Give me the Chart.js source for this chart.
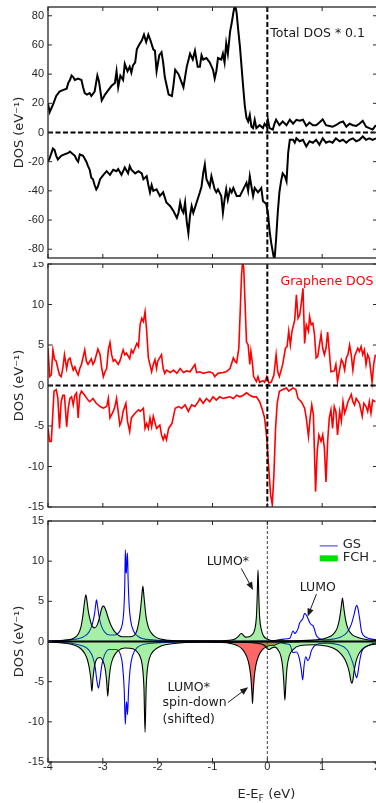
<!DOCTYPE html>
<html>
<head>
<meta charset="utf-8">
<title>DOS</title>
<script src="https://cdn.jsdelivr.net/npm/chart.js@4.4.1/dist/chart.umd.min.js"></script>
<style>
  html, body { margin: 0; padding: 0; background: #fff; }
  body { width: 376px; height: 803px; overflow: hidden; position: relative; }
  canvas { position: absolute; left: 0; }
</style>
</head>
<body>
<canvas id="totalChart" width="400" height="262" style="top:0px"></canvas>
<canvas id="grapheneChart" width="400" height="248" style="top:262px"></canvas>
<canvas id="moleculeChart" width="400" height="293" style="top:510px"></canvas>
<script>
// tick labels
var xTicks = [-4, -3, -2, -1, 0, 1, 2];
var yTicksTotal = [-80, -60, -40, -20, 0, 20, 40, 60, 80];
var yTicksDos = [-15, -10, -5, 0, 5, 10, 15];

// total DOS * 0.1, spin up
var totE_up = [-4.00,-3.97,-3.91,-3.85,-3.79,-3.73,-3.66,-3.63,-3.60,-3.57,-3.54,-3.51,-3.45,-3.39,-3.36,-3.33,-3.29,-3.24,-3.21,-3.15,-3.10,-3.07,-3.02,-2.96,-2.90,-2.84,-2.78,-2.75,-2.72,-2.68,-2.63,-2.60,-2.55,-2.51,-2.48,-2.45,-2.41,-2.38,-2.34,-2.29,-2.25,-2.21,-2.17,-2.13,-2.08,-2.05,-2.02,-1.97,-1.93,-1.90,-1.87,-1.80,-1.74,-1.71,-1.68,-1.62,-1.56,-1.53,-1.47,-1.41,-1.36,-1.32,-1.27,
  -1.23,-1.20,-1.17,-1.11,-1.05,-0.99,-0.96,-0.93,-0.90,-0.84,-0.81,-0.78,-0.75,-0.72,-0.68,-0.65,-0.62,-0.59,-0.56,-0.53,-0.50,-0.47,-0.44,-0.41,-0.38,-0.35,-0.32,-0.29,-0.26,-0.23,-0.20,-0.14,-0.08,-0.05,-0.01,0.01,0.04,0.10,0.13,0.16,0.22,0.28,0.35,0.41,0.47,0.53,0.59,0.65,0.71,0.77,0.83,0.89,0.95,1.01,1.07,1.13,1.19,1.25,1.32,1.38,1.44,1.50,1.56,1.62,1.68,1.74,1.80,1.86,1.92,1.98];
var totUp = [20,14,19,25,28,29,30,34,36,39,38,36,37,36,31,27,26,27,25,28,39,35,22,26,29,32,34,42,31,39,36,47,42,45,41,46,48,57,60,63,67,62,67,63,57,56,42,53,55,48,38,26,25,33,43,40,34,31,45,54,50,56,45,
  45,53,50,51,48,43,37,42,51,50,54,48,61,54,69,75,82,88,82,70,59,45,31,18,10,7.5,12,4,3,8.7,3,5,3,6,4,8.7,3,2,6,8.7,5,7.5,5,8.7,6,8.7,8,8.7,4.5,6.8,5,5,6.8,9,5,4.5,4,5,6.8,7.5,4,6,5,4.5,6,8,4,3,2,5];

// total DOS * 0.1, spin down
var totE_dn = [-4.00,-3.97,-3.91,-3.88,-3.85,-3.82,-3.76,-3.70,-3.63,-3.60,-3.57,-3.51,-3.48,-3.45,-3.42,-3.36,-3.30,-3.27,-3.24,-3.21,-3.18,-3.15,-3.12,-3.09,-3.05,-2.99,-2.93,-2.87,-2.81,-2.75,-2.72,-2.66,-2.60,-2.54,-2.51,-2.48,-2.41,-2.35,-2.29,-2.26,-2.20,-2.17,-2.14,-2.11,-2.08,-2.02,-1.96,-1.90,-1.84,-1.77,-1.71,-1.65,-1.62,-1.59,-1.56,-1.53,-1.50,-1.47,-1.44,-1.41,-1.38,-1.35,-1.29,
  -1.23,-1.20,-1.17,-1.14,-1.11,-1.05,-1.02,-0.99,-0.96,-0.93,-0.90,-0.84,-0.81,-0.78,-0.75,-0.72,-0.68,-0.65,-0.62,-0.56,-0.50,-0.44,-0.38,-0.35,-0.32,-0.29,-0.26,-0.23,-0.17,-0.11,-0.08,-0.05,-0.02,0.01,0.04,0.07,0.10,0.13,0.16,0.19,0.22,0.25,0.28,0.32,0.35,0.38,0.41,0.47,0.50,0.53,0.59,0.65,0.71,0.77,0.83,0.89,0.95,1.01,1.07,1.13,1.19,1.25,1.32,1.38,1.44,1.50,1.56,1.62,1.68,1.74,1.80,1.86,1.92,1.98];
var totDn = [-20,-17.5,-11,-12,-16,-18.5,-16,-15,-14,-13,-14,-16,-18.5,-20,-15,-16,-20,-23,-25.5,-31,-32,-36,-39,-37,-32,-29,-26.5,-29,-25.5,-26.5,-25,-29,-24,-28,-23,-25.5,-28,-26.5,-28,-32,-30,-36,-41,-36,-40,-39,-43.5,-41,-48,-50.5,-54,-58.5,-55,-48,-53,-55,-48,-61,-69,-57,-50.5,-55,-48,
  -41,-37,-28,-22,-32,-37,-30,-34.5,-39,-41,-39,-43.5,-55,-46,-39,-46,-39,-41,-38,-43.5,-43.5,-39,-34.5,-40,-30,-37,-43.5,-38,-41,-38,-47,-48,-49,-55,-67,-75.5,-82,-88,-73,-55,-41,-33.5,-28,-30,-33.5,-14,-5,-5,-7,-4,-6,-5,-9.5,-6,-7,-5,-8.4,-4,-7,-6,-7,-4,-6,-5,-7,-5,-4,-6,-5,-2.7,-5,-4,-5,-4];

// graphene DOS, spin up
var grE_up = [-4.00,-3.97,-3.94,-3.91,-3.88,-3.85,-3.82,-3.79,-3.76,-3.73,-3.70,-3.66,-3.63,-3.60,-3.57,-3.54,-3.51,-3.48,-3.45,-3.42,-3.39,-3.33,-3.30,-3.27,-3.21,-3.18,-3.15,-3.09,-3.05,-3.02,-2.99,-2.96,-2.93,-2.90,-2.87,-2.84,-2.81,-2.78,-2.72,-2.69,-2.63,-2.60,-2.57,-2.51,-2.48,-2.45,-2.38,-2.35,-2.32,-2.29,-2.26,-2.23,-2.20,-2.17,-2.11,-2.08,-2.05,-2.02,-2.00,-1.93,-1.90,-1.87,-1.84,-1.77,-1.71,-1.65,-1.59,-1.53,-1.47,-1.41,-1.32,-1.29,
  -1.23,-1.17,-1.11,-1.05,-0.99,-0.96,-0.90,-0.81,-0.75,-0.68,-0.62,-0.59,-0.56,-0.52,-0.49,-0.47,-0.45,-0.43,-0.41,-0.38,-0.35,-0.32,-0.30,-0.27,-0.25,-0.20,-0.17,-0.14,-0.08,-0.05,-0.01,0.03,0.07,0.12,0.16,0.19,0.22,0.28,0.33,0.36,0.39,0.42,0.45,0.50,0.53,0.56,0.59,0.62,0.65,0.68,0.71,0.75,0.77,0.80,0.83,0.86,0.89,0.92,0.95,0.98,1.01,1.04,1.07,1.10,1.13,1.16,1.22,1.25,1.28,1.35,1.38,1.41,1.44,1.47,1.50,1.53,1.56,1.59,1.65,1.68,1.71,1.74,1.77,1.80,1.83,1.86,1.91,1.94,1.97];
var grUp = [4.6,1.1,1.3,4.4,3.2,3.0,2.1,1.3,1.1,2.1,3.8,2.1,3.2,3.4,2.6,1.9,2.3,1.7,1.3,2.1,2.6,4.4,3.0,2.6,3.3,2.6,3.0,4.5,3.8,2.1,1.1,1.7,2.1,4.4,5.3,3.8,3.0,3.2,2.6,3.0,4.4,3.8,4.0,3.3,4.4,4.0,5.2,4.8,7.5,8.3,7.9,9.1,6.7,3.4,1.7,2.6,3.2,2.1,3.0,3.8,2.1,1.5,1.9,1.6,1.9,1.5,2.1,1.6,1.8,1.7,2.6,1.6,
  1.7,1.5,1.6,1.7,1.5,1.1,1.5,1.6,1.7,2.1,3.4,3.0,2.8,4.6,10,13.7,15.3,14.5,10.8,5.4,5.0,2.6,4.2,2.6,1.1,0.5,1.1,0.4,0.6,0.4,1.1,0.3,0.4,1.3,3.8,1.7,1.1,2.6,4.6,4.8,6.7,5.0,6.7,8.1,11.2,8.3,8.7,10.2,12.0,5.2,7.5,6.7,8.5,7.5,7.7,6.3,3.4,3.6,5.0,6.3,4.6,3.8,4.6,6.6,4.2,1.7,1.8,2.6,0.5,3.2,2.8,1.9,3.4,3.8,5.0,3.8,1.9,3.6,4.6,4.2,4.8,3.8,4.4,2.6,3.8,3.3,0.4,2.6,3.8];

// graphene DOS, spin down
var grE_dn = [-4.00,-3.97,-3.94,-3.91,-3.89,-3.85,-3.82,-3.79,-3.76,-3.73,-3.70,-3.66,-3.63,-3.60,-3.57,-3.54,-3.51,-3.48,-3.45,-3.42,-3.39,-3.33,-3.27,-3.24,-3.18,-3.12,-3.05,-2.99,-2.93,-2.90,-2.87,-2.84,-2.81,-2.78,-2.75,-2.72,-2.69,-2.66,-2.63,-2.58,-2.55,-2.51,-2.48,-2.41,-2.35,-2.32,-2.29,-2.26,-2.23,-2.20,-2.17,-2.14,-2.11,-2.08,-2.02,-1.96,-1.93,-1.90,-1.87,-1.84,-1.80,-1.74,-1.68,-1.62,-1.56,-1.50,-1.44,-1.38,-1.32,-1.26,
  -1.23,-1.17,-1.11,-1.05,-0.99,-0.93,-0.87,-0.81,-0.75,-0.68,-0.62,-0.56,-0.50,-0.44,-0.38,-0.32,-0.26,-0.20,-0.14,-0.09,-0.05,-0.01,0.03,0.06,0.09,0.12,0.15,0.18,0.22,0.28,0.35,0.39,0.47,0.52,0.56,0.62,0.68,0.71,0.75,0.78,0.81,0.84,0.88,0.91,0.94,0.98,1.01,1.04,1.07,1.10,1.13,1.16,1.19,1.22,1.25,1.28,1.32,1.35,1.38,1.41,1.44,1.47,1.50,1.53,1.56,1.59,1.62,1.68,1.73,1.76,1.80,1.83,1.86,1.89,1.92,1.97];
var grDn = [-5.3,-6.9,-6.9,-3.2,-0.7,-0.5,-1.6,-5.3,-2.0,-1.2,-1.2,-5.1,-2.8,-1.6,-1.4,-2.4,-1.2,-0.9,-4.0,-1.2,-0.7,-1.2,-1.8,-2.0,-1.6,-2.2,-2.6,-2.8,-2.6,-1.6,-4.0,-3.6,-3.2,-2.6,-1.6,-3.2,-4.9,-4.4,-3.2,-2.2,-4.4,-5.7,-4.0,-3.4,-3.0,-3.2,-3.0,-2.8,-5.3,-4.7,-5.3,-4.0,-5.1,-3.8,-5.3,-4.9,-6.1,-6.7,-6.1,-6.7,-5.3,-4.7,-2.8,-2.6,-2.8,-2.4,-3.2,-2.4,-2.6,-2.0,
  -1.6,-2.2,-1.6,-2.0,-1.4,-1.8,-1.4,-1.6,-1.5,-1.4,-1.6,-1.2,-1.4,-1.2,-0.9,-1.2,-1.4,-1.4,-2.0,-3.0,-4.0,-6.5,-10.6,-13.5,-14.7,-11.0,-5.3,-2.2,-0.7,-0.5,-0.3,-0.7,-0.3,-0.5,-1.6,-2.0,-2.8,-4.0,-6.3,-4.0,-2.4,-3.6,-13.1,-8.1,-6.1,-6.9,-6.1,-7.7,-11.9,-6.9,-4.0,-3.0,-5.3,-2.6,-3.2,-6.1,-3.2,-4.4,-2.0,-3.4,-2.8,-2.0,-1.6,-1.1,-2.0,-2.4,-1.6,-2.2,-3.8,-2.2,-2.6,-3.2,-2.0,-3.4,-1.8,-2.0];

// molecule: ground state (GS)
var gsE_up = [-4.00,-3.60,-3.35,-3.25,-3.19,-3.15,-3.13,-3.115,-3.10,-3.07,-3.03,-2.97,-2.88,-2.78,-2.70,-2.65,-2.62,-2.60,-2.59,-2.58,-2.57,-2.56,-2.55,-2.54,-2.52,-2.49,-2.44,-2.35,-2.10,-1.50,-0.50,0.00,0.10,0.20,0.30,0.41,0.47,0.50,0.53,0.56,0.59,0.62,0.65,0.68,0.71,0.74,0.77,0.80,0.83,0.86,0.89,0.95,1.05,1.20,1.35,1.45,1.53,1.58,1.61,1.63,1.65,1.68,1.72,1.81,1.90,2.00];
var gsUp = [0.05,0.2,0.6,1.2,2.2,3.5,4.6,5.2,4.6,3.2,2.0,1.2,0.8,0.8,1.2,2.0,3.6,7.0,11.4,9.0,8.5,10.5,11.0,8.0,4.5,2.5,1.3,0.6,0.2,0.05,0.03,0.05,0.1,0.2,0.3,0.4,1.3,1.0,1.2,1.6,2.3,2.6,2.9,3.5,3.3,2.9,2.4,2.1,2.0,1.5,0.8,0.35,0.2,0.3,0.6,1.1,2.1,3.3,4.2,4.5,4.2,3.0,1.2,0.5,0.3,0.2];
var gsE_dn = [-4.00,-3.55,-3.35,-3.25,-3.18,-3.14,-3.11,-3.08,-3.05,-3.02,-2.97,-2.88,-2.76,-2.68,-2.64,-2.61,-2.59,-2.575,-2.565,-2.55,-2.53,-2.50,-2.46,-2.38,-2.15,-1.50,0.00,0.20,0.35,0.41,0.47,0.53,0.58,0.62,0.645,0.67,0.70,0.74,0.77,0.80,0.85,0.95,1.10,1.30,1.45,1.53,1.58,1.61,1.63,1.65,1.68,1.72,1.81,1.90,2.00];
var gsDn = [-0.05,-0.25,-0.6,-1.1,-2.0,-3.2,-4.8,-5.8,-4.6,-3.0,-1.7,-1.0,-1.0,-1.6,-3.0,-6.0,-10.3,-8.0,-7.5,-9.1,-6.0,-3.3,-1.8,-0.8,-0.25,-0.05,-0.05,-0.1,-0.3,-0.4,-1.4,-1.3,-2.0,-3.5,-4.8,-3.0,-1.9,-2.4,-2.0,-1.2,-0.6,-0.25,-0.2,-0.4,-1.0,-2.1,-3.2,-4.2,-4.5,-4.0,-2.6,-1.3,-0.6,-0.3,-0.2];

// molecule: full core hole (FCH)
var fchE_up = [-4.00,-3.70,-3.55,-3.45,-3.40,-3.37,-3.35,-3.33,-3.31,-3.29,-3.27,-3.24,-3.20,-3.15,-3.10,-3.06,-3.03,-3.01,-2.99,-2.97,-2.94,-2.90,-2.85,-2.78,-2.65,-2.50,-2.40,-2.33,-2.31,-2.29,-2.27,-2.25,-2.23,-2.21,-2.17,-2.12,-2.05,-1.95,-1.80,-1.50,-1.00,-0.70,-0.58,-0.52,-0.49,-0.47,-0.44,-0.40,-0.33,-0.27,-0.23,-0.20,-0.185,-0.17,-0.155,-0.14,-0.11,-0.07,0.00,0.10,0.50,0.90,1.10,1.20,1.27,1.31,1.34,1.36,1.37,1.38,1.40,1.43,1.47,1.54,1.65,1.80,2.00];
var fchUp = [0.05,0.15,0.35,0.9,1.8,2.9,4.0,5.1,5.8,5.1,4.0,2.9,2.0,1.7,2.1,3.0,3.9,4.3,4.4,4.3,3.8,2.9,2.0,1.2,0.6,0.6,1.0,3.0,4.2,5.6,6.9,5.6,4.2,3.0,1.8,1.1,0.6,0.3,0.15,0.08,0.08,0.15,0.35,0.7,0.95,1.0,0.8,0.55,0.6,0.9,1.5,3.0,5.5,8.9,5.5,3.0,1.5,0.7,0.3,0.1,0.1,0.2,0.5,0.9,1.6,2.6,3.9,5.0,5.4,5.0,3.9,2.6,1.6,0.9,0.5,0.25,0.12];
var fchE_dn = [-4.00,-3.70,-3.50,-3.40,-3.33,-3.28,-3.25,-3.22,-3.20,-3.18,-3.15,-3.10,-3.05,-3.00,-2.96,-2.93,-2.91,-2.89,-2.86,-2.81,-2.73,-2.60,-2.45,-2.35,-2.30,-2.27,-2.25,-2.23,-2.21,-2.19,-2.15,-2.08,-1.95,-1.70,-1.20,-0.60,-0.20,-0.05,0.00,0.04,0.08,0.14,0.20,0.25,0.28,0.30,0.32,0.34,0.36,0.40,0.47,0.60,0.85,1.10,1.25,1.35,1.42,1.47,1.50,1.52,1.54,1.56,1.58,1.62,1.68,1.78,1.90,2.00];
var fchDn = [-0.05,-0.2,-0.5,-0.9,-1.5,-2.3,-3.2,-4.6,-6.2,-4.6,-3.0,-2.1,-2.0,-2.4,-3.3,-5.0,-6.8,-5.0,-3.2,-2.0,-1.2,-0.8,-0.9,-1.5,-2.3,-3.6,-5.8,-11.3,-5.8,-3.6,-2.1,-1.2,-0.6,-0.25,-0.1,-0.1,-0.2,-0.5,-0.9,-1.0,-0.8,-0.7,-1.1,-1.9,-3.2,-5.0,-7.3,-5.0,-3.2,-1.8,-1.0,-0.5,-0.4,-0.6,-1.0,-1.6,-2.3,-3.2,-4.0,-4.8,-5.2,-4.8,-3.8,-2.4,-1.4,-0.7,-0.4,-0.3];

// LUMO* spin-down (shifted)
var lumoE = [-1.00,-0.70,-0.55,-0.45,-0.38,-0.33,-0.30,-0.28,-0.27,-0.26,-0.24,-0.21,-0.16,-0.10,-0.03,0.05,0.12,0.18,0.30,0.60];
var lumoDn = [-0.05,-0.2,-0.5,-1.0,-1.8,-3.0,-4.5,-6.5,-7.7,-6.5,-4.5,-3.0,-1.8,-1.1,-0.7,-0.5,-0.5,-0.3,-0.1,-0.05];

var tickFont = { family: 'Liberation Sans', size: 11 };
var textFont = 'DejaVu Sans';
var axisColor = '#262626';

function points(xs, ys) {
  return xs.map(function(x, i) { return { x: x, y: ys[i] }; });
}

function line(ctx, x1, y1, x2, y2) {
  ctx.beginPath(); ctx.moveTo(x1, y1); ctx.lineTo(x2, y2); ctx.stroke();
}

function arrow(ctx, x1, y1, x2, y2) {
  var a = Math.atan2(y2 - y1, x2 - x1), h = 8, w = 3.2;
  line(ctx, x1, y1, x2 - h * 0.8 * Math.cos(a), y2 - h * 0.8 * Math.sin(a));
  ctx.beginPath();
  ctx.moveTo(x2, y2);
  ctx.lineTo(x2 - h * Math.cos(a) + w * Math.sin(a), y2 - h * Math.sin(a) - w * Math.cos(a));
  ctx.lineTo(x2 - h * Math.cos(a) - w * Math.sin(a), y2 - h * Math.sin(a) + w * Math.cos(a));
  ctx.closePath(); ctx.fill();
}

// box with inward ticks, zero lines
var boxPlugin = {
  id: 'box',
  afterDatasetsDraw: function(chart, args, opts) {
    var ctx = chart.ctx, a = chart.chartArea, sx = chart.scales.x, sy = chart.scales.y;
    var x0 = sx.getPixelForValue(0), y0 = sy.getPixelForValue(0);
    ctx.save();
    if (opts.zero === 'dashed') {
      ctx.strokeStyle = '#000'; ctx.lineWidth = 2; ctx.setLineDash([5, 2.5]);
      line(ctx, a.left, y0, a.right, y0);
      line(ctx, x0, a.top, x0, a.bottom);
    } else {
      ctx.strokeStyle = '#444'; ctx.lineWidth = 1; ctx.setLineDash([3, 2]);
      line(ctx, x0, a.top, x0, a.bottom);
      ctx.setLineDash([]); ctx.strokeStyle = '#000'; ctx.lineWidth = 2;
      line(ctx, a.left, y0, a.right, y0);
    }
    ctx.setLineDash([]);
    ctx.strokeStyle = axisColor; ctx.lineWidth = 1.3;
    ctx.strokeRect(a.left, a.top, a.right - a.left, a.bottom - a.top);
    ctx.lineWidth = 1;
    xTicks.forEach(function(v) {
      var px = sx.getPixelForValue(v);
      line(ctx, px, a.bottom, px, a.bottom - 4);
      line(ctx, px, a.top, px, a.top + 4);
    });
    opts.yTicks.forEach(function(v) {
      var py = sy.getPixelForValue(v);
      line(ctx, a.left, py, a.left + 4, py);
      line(ctx, a.right, py, a.right - 4, py);
    });
    ctx.restore();
  }
};

// texts, arrows and legend placed in data units
var notesPlugin = {
  id: 'notes',
  afterDraw: function(chart, args, opts) {
    var ctx = chart.ctx, sx = chart.scales.x, sy = chart.scales.y, a = chart.chartArea;
    ctx.save();
    ctx.textBaseline = 'middle';
    (opts.texts || []).forEach(function(t) {
      ctx.font = (t.size || 12.5) + 'px "' + textFont + '"';
      ctx.fillStyle = t.color || '#1a1a1a';
      ctx.textAlign = t.align || 'left';
      ctx.fillText(t.text, sx.getPixelForValue(t.x), sy.getPixelForValue(t.y));
    });
    ctx.strokeStyle = '#1a1a1a'; ctx.fillStyle = '#1a1a1a'; ctx.lineWidth = 1;
    (opts.arrows || []).forEach(function(r) {
      arrow(ctx, sx.getPixelForValue(r[0]), sy.getPixelForValue(r[1]), sx.getPixelForValue(r[2]), sy.getPixelForValue(r[3]));
    });
    (opts.legend || []).forEach(function(l) {
      var x1 = sx.getPixelForValue(l.x1), x2 = sx.getPixelForValue(l.x2), py = sy.getPixelForValue(l.y);
      if (l.kind === 'line') {
        ctx.strokeStyle = l.color; ctx.lineWidth = 1;
        line(ctx, x1, py, x2, py);
      } else {
        ctx.fillStyle = l.color;
        ctx.fillRect(x1, py - 3, x2 - x1, 6);
      }
      ctx.font = '13px "' + textFont + '"';
      ctx.fillStyle = axisColor; ctx.textAlign = 'left';
      ctx.fillText(l.text, sx.getPixelForValue(l.tx), py - 1);
    });
    if (opts.xTitle) {
      var cx = sx.getPixelForValue(0) - 1, cy = a.bottom + 33;
      ctx.fillStyle = axisColor; ctx.textAlign = 'left';
      var big = '13px "' + textFont + '"', small = '9.5px "' + textFont + '"';
      ctx.font = big; var w1 = ctx.measureText('E-E').width, w3 = ctx.measureText(' (eV)').width;
      ctx.font = small; var w2 = ctx.measureText('F').width;
      var left = cx - (w1 + w2 + w3) / 2;
      ctx.font = big; ctx.fillText('E-E', left, cy);
      ctx.font = small; ctx.fillText('F', left + w1, cy + 3.5);
      ctx.font = big; ctx.fillText(' (eV)', left + w1 + w2, cy);
    }
    ctx.restore();
  }
};

function makeOptions(yMin, yMax, yTicks, padTop, padBottom, showX, zero, notes) {
  return {
    responsive: false,
    animation: false,
    devicePixelRatio: 1,
    layout: { padding: { left: 0, right: 23, top: padTop, bottom: padBottom } },
    plugins: {
      legend: { display: false },
      tooltip: { enabled: false },
      box: { zero: zero, yTicks: yTicks },
      notes: notes
    },
    scales: {
      x: {
        type: 'linear', min: -4, max: 2, display: showX,
        grid: { display: false, drawTicks: false },
        border: { display: false },
        afterBuildTicks: function(s) { s.ticks = xTicks.map(function(v) { return { value: v }; }); },
        ticks: { padding: -2, color: axisColor, font: tickFont, maxRotation: 0, autoSkip: false,
                 callback: function(v) { return String(v); } },
        afterFit: function(s) { s.height = showX ? 41 : 0; s.paddingLeft = 0; s.paddingRight = 0; }
      },
      y: {
        type: 'linear', min: yMin, max: yMax,
        grid: { display: false, drawTicks: false },
        border: { display: false },
        afterBuildTicks: function(s) { s.ticks = yTicks.map(function(v) { return { value: v }; }); },
        ticks: { padding: 4, color: axisColor, font: tickFont, callback: function(v) { return String(v); } },
        title: { display: true, text: 'DOS (eV⁻¹)', color: axisColor,
                 font: { family: textFont, size: 13 }, padding: { top: 12, bottom: 0 } },
        afterFit: function(s) { s.width = 48; s.paddingTop = 0; s.paddingBottom = 0; }
      }
    }
  };
}

function curve(xs, ys, color, width, extra) {
  return Object.assign({
    data: points(xs, ys), borderColor: color, borderWidth: width,
    pointRadius: 0, tension: 0, fill: false
  }, extra || {});
}

new Chart(document.getElementById('totalChart'), {
  type: 'line',
  data: { datasets: [
    curve(totE_up, totUp, '#000', 2),
    curve(totE_dn, totDn, '#000', 2)
  ] },
  options: makeOptions(-86, 86, yTicksTotal, 7, 4, false, 'dashed', {
    texts: [{ x: 0.055, y: 67.5, text: 'Total DOS * 0.1' }]
  }),
  plugins: [boxPlugin, notesPlugin]
});

new Chart(document.getElementById('grapheneChart'), {
  type: 'line',
  data: { datasets: [
    curve(grE_up, grUp, '#ff0000', 1.6),
    curve(grE_dn, grDn, '#ff0000', 1.6)
  ] },
  options: makeOptions(-15, 15, yTicksDos, 2, 3, false, 'dashed', {
    texts: [{ x: 0.24, y: 12.85, text: 'Graphene DOS', color: '#ff0000' }]
  }),
  plugins: [boxPlugin, notesPlugin]
});

var peak = { pointRadius: 0, cubicInterpolationMode: 'monotone' };
new Chart(document.getElementById('moleculeChart'), {
  type: 'line',
  data: { datasets: [
    curve(fchE_up, fchUp, '#000', 1.1, Object.assign({ fill: 'origin', backgroundColor: 'rgba(0,210,0,0.35)', order: 1 }, peak)),
    curve(fchE_dn, fchDn, '#000', 1.1, Object.assign({ fill: 'origin', backgroundColor: 'rgba(0,210,0,0.35)', order: 1 }, peak)),
    curve(lumoE, lumoDn, '#000', 1.1, Object.assign({ fill: 'origin', backgroundColor: 'rgba(255,0,0,0.6)', order: 2 }, peak)),
    curve(gsE_up, gsUp, '#0000ff', 1.1, Object.assign({ order: 3 }, peak)),
    curve(gsE_dn, gsDn, '#0000ff', 1.1, Object.assign({ order: 3 }, peak))
  ] },
  options: makeOptions(-15, 15, yTicksDos, 11, 0, true, 'fermi', {
    texts: [
      { x: -0.72, y: 9.9, text: 'LUMO*', align: 'center' },
      { x: 0.92, y: 6.7, text: 'LUMO', align: 'center' },
      { x: -1.82, y: -5.75, text: 'LUMO*' },
      { x: -1.91, y: -7.6, text: 'spin-down' },
      { x: -1.91, y: -9.7, text: '(shifted)' }
    ],
    arrows: [
      [-0.475, 9.1, -0.26, 6.4],
      [0.895, 5.9, 0.735, 3.1],
      [-0.72, -7.6, -0.35, -5.7]
    ],
    legend: [
      { kind: 'line', x1: 0.955, x2: 1.285, y: 11.9, tx: 1.375, text: 'GS', color: '#3030ff' },
      { kind: 'box', x1: 0.955, x2: 1.285, y: 10.35, tx: 1.375, text: 'FCH', color: '#00e000' }
    ],
    xTitle: true
  }),
  plugins: [boxPlugin, notesPlugin]
});
</script>
</body>
</html>
